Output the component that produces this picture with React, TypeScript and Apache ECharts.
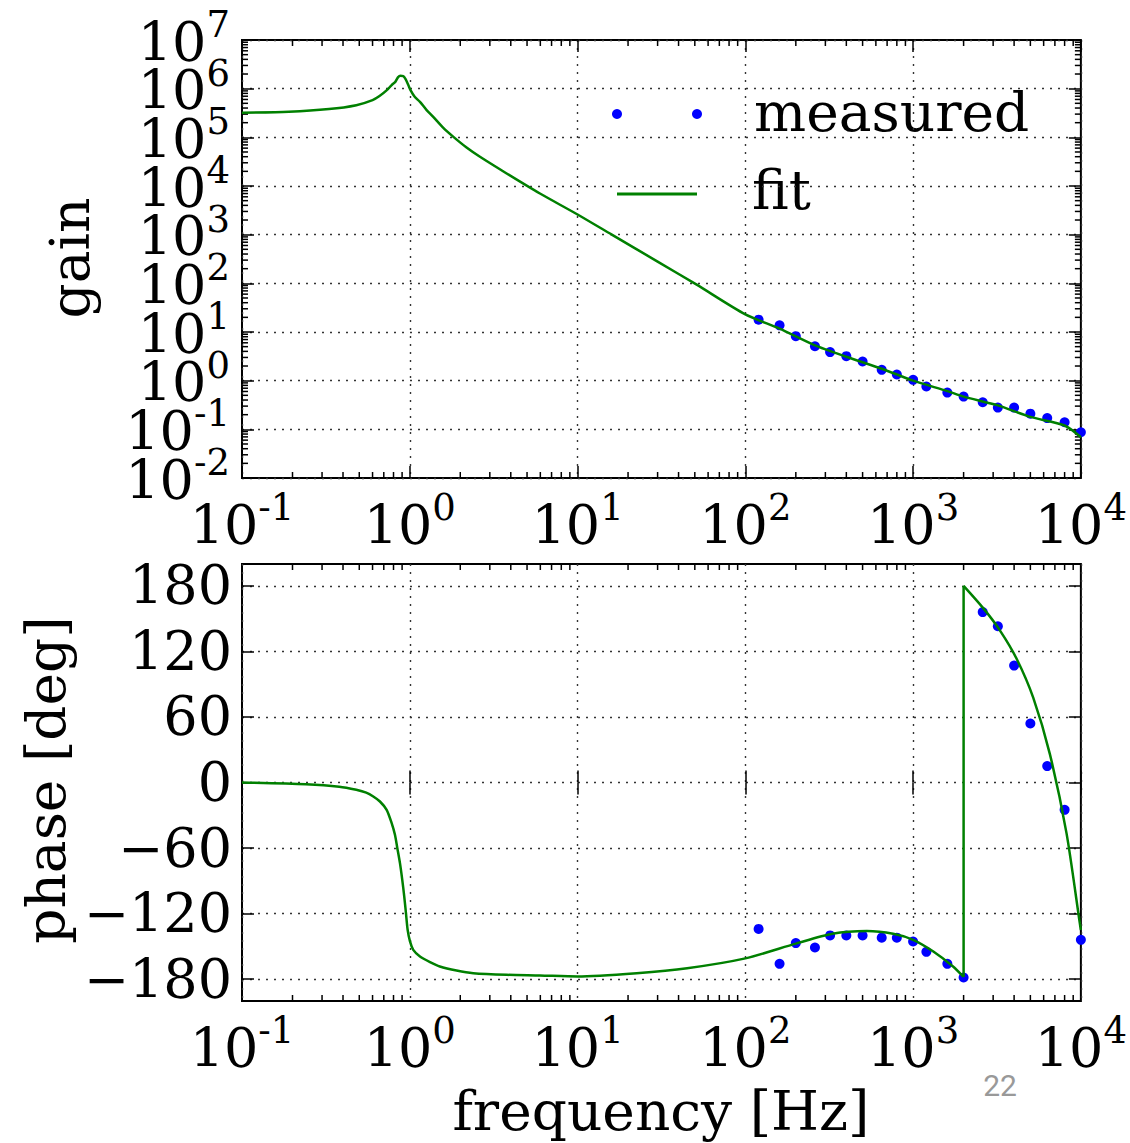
import React, { useEffect, useRef } from 'react';
import * as echarts from 'echarts';

const F = 'DejaVu Serif';
const BLUE = '#0000ff';
const GREEN = '#008000';

// measured data
const freqMeasured = [120, 160, 200, 260, 320, 400, 500, 650, 800, 1000, 1200, 1600, 2000, 2600, 3200, 4000, 5000, 6300, 8000, 10000];
const gainMeasured = [17.9, 13.7, 8.2, 5.1, 3.86, 3.19, 2.48, 1.67, 1.34, 1.04, 0.76, 0.57, 0.47, 0.36, 0.28, 0.28, 0.21, 0.17, 0.14, 0.087];
const phaseMeasured = [-134, -166, -147, -151, -140, -140, -140, -142, -142, -145.5, -155, -166, -178.5, 156, 143, 107, 54, 15, -25, -144];

// fit curve: gain
const freqFitGain = [0.1, 0.19, 0.33, 0.48, 0.6, 0.66, 0.73, 0.78, 0.82, 0.85, 0.88, 0.915, 0.946, 0.98, 1.01, 1.07, 1.15, 1.26, 1.38, 1.58, 1.82, 2.18, 2.62, 3.78, 5.97, 10, 16, 30, 51, 100, 160, 260, 400, 650, 1000, 1600, 2000, 3200, 5000, 8000, 10000];
const gainFit = [3.19e5, 3.35e5, 3.8e5, 4.57e5, 5.82e5, 7.05e5, 9.33e5, 1.186e6, 1.38e6, 1.706e6, 1.84e6, 1.816e6, 1.55e6, 1.186e6, 9.33e5, 6.81e5, 5.37e5, 3.63e5, 2.63e5, 1.58e5, 1.02e5, 6.17e4, 3.98e4, 1.81e4, 7.0e3, 2.6e3, 1.0e3, 280, 95, 23, 11.7, 5.3, 3.1, 1.76, 1.0, 0.61, 0.47, 0.31, 0.18, 0.12, 0.069];

// fit curve: phase, below the wrap (0.1 Hz .. 2 kHz)
const freqFitPhaseLow = [0.1, 0.24, 0.38, 0.48, 0.55, 0.606, 0.664, 0.728, 0.78, 0.816, 0.843, 0.874, 0.902, 0.927, 0.949, 0.971, 1.003, 1.049, 1.15, 1.32, 1.51, 1.9, 2.39, 3.78, 5.97, 10, 22.5, 45, 100, 200, 330, 530, 760, 1000, 1320, 1730, 2000];
const phaseFitLow = [0, -1.6, -3.8, -6.7, -9.3, -12.8, -17.4, -25, -37.2, -47.9, -60.1, -73.8, -89.1, -104.4, -119.6, -134.8, -145.5, -153.2, -159.3, -164.4, -168.4, -172.1, -174.5, -176, -176.6, -177.5, -174.5, -170, -161, -147.5, -138.5, -136, -138.5, -144, -154.7, -168.4, -178];
// the wrap at 2 kHz
const freqFitPhaseWrap = [2000, 2000];
const phaseFitWrap = [-178, 180];
// above the wrap (2 kHz .. 10 kHz)
const freqFitPhaseHigh = [2000, 2618, 3290, 4140, 5200, 6530, 8220, 9860, 10000];
const phaseFitHigh = [180, 159.6, 139.3, 113.3, 77.7, 26.2, -46.8, -129, -135];

// axes
const phaseTicks = [-180, -120, -60, 0, 60, 120, 180];
const minorMultipliers = [2, 3, 4, 5, 6, 7, 8, 9];
const xDecades = [0.1, 1, 10, 100, 1000];
const yDecades = [0.01, 0.1, 1, 10, 100, 1000, 10000, 1e5, 1e6];

const X_MIN = 0.1, X_MAX = 10000;
const G_MIN = 0.01, G_MAX = 1e7;
const P_MIN = -200, P_MAX = 200;

function minorVals(decades: number[]) {
  const out: number[] = [];
  decades.forEach((d) => minorMultipliers.forEach((m) => out.push(m * d)));
  return out;
}

const tickLine = { color: '#000', width: 1.5 };
const gridLine = { color: '#333', type: [2, 6] as any, width: 1.4 };

const rich = {
  b: { fontFamily: F, fontSize: 54, lineHeight: 63, verticalAlign: 'bottom', color: '#000' },
  s: { fontFamily: F, fontSize: 37, verticalAlign: 'top', color: '#000' },
};
const expOf = (v: number) => Math.round(Math.log10(v));
const logFmt = (v: number) => `{b|10}{s|${expOf(v)}}`;
// gain-axis labels split over two overlaid axes (even / odd powers) so none gets dropped
const logFmtParity = (parity: number) => (v: number) => {
  const e = expOf(v);
  return Math.abs(e % 2) === parity ? `{b|10}{s|${e}}` : '';
};

function xMinorSeries(xi: number, yi: number, yLo: number, yHi: number) {
  return {
    type: 'custom',
    xAxisIndex: xi,
    yAxisIndex: yi,
    silent: true,
    clip: false,
    data: minorVals(xDecades).map((v) => [v, yLo]),
    renderItem: (params: any, api: any) => {
      const v = api.value(0);
      const a = api.coord([v, yLo]);
      const b = api.coord([v, yHi]);
      return {
        type: 'group',
        children: [
          { type: 'line', shape: { x1: a[0], y1: a[1], x2: a[0], y2: a[1] - 6 }, style: { stroke: '#000', lineWidth: 1.5 } },
          { type: 'line', shape: { x1: b[0], y1: b[1], x2: b[0], y2: b[1] + 6 }, style: { stroke: '#000', lineWidth: 1.5 } },
        ],
      };
    },
  };
}

function yMinorSeries(xi: number, yi: number) {
  return {
    type: 'custom',
    xAxisIndex: xi,
    yAxisIndex: yi,
    silent: true,
    clip: false,
    data: minorVals(yDecades).map((v) => [X_MIN, v]),
    renderItem: (params: any, api: any) => {
      const v = api.value(1);
      const a = api.coord([X_MIN, v]);
      const b = api.coord([X_MAX, v]);
      return {
        type: 'group',
        children: [
          { type: 'line', shape: { x1: a[0], y1: a[1], x2: a[0] + 6, y2: a[1] }, style: { stroke: '#000', lineWidth: 1.5 } },
          { type: 'line', shape: { x1: b[0], y1: b[1], x2: b[0] - 6, y2: b[1] }, style: { stroke: '#000', lineWidth: 1.5 } },
        ],
      };
    },
  };
}

const fitLine = (xi: number, yi: number, xs: number[], ys: number[], smooth: any) => ({
  type: 'line', name: 'fit', xAxisIndex: xi, yAxisIndex: yi,
  data: xs.map((f, i) => [f, ys[i]]),
  showSymbol: false, smooth,
  lineStyle: { color: GREEN, width: 2.5 }, itemStyle: { color: GREEN },
});

export default function App() {
  const ref = useRef<HTMLDivElement>(null);
  useEffect(() => {
    if (!ref.current) return;
    const chart = echarts.init(ref.current, undefined, { renderer: 'svg' });
    const logX = (gridIndex: number, pos: 'bottom' | 'top', main: boolean) => ({
      type: 'log',
      logBase: 10,
      gridIndex,
      position: pos,
      min: X_MIN,
      max: X_MAX,
      splitNumber: 5,
      axisLine: { show: false },
      axisTick: { show: true, inside: true, length: 12, lineStyle: tickLine },
      axisLabel: main
        ? { show: true, formatter: logFmt, rich, margin: 11, showMinLabel: true, showMaxLabel: true, hideOverlap: false }
        : { show: false },
      splitLine: main ? { show: true, lineStyle: gridLine } : { show: false },
    });
    const gainLabelAxis = (parity: number) => ({
      type: 'log', logBase: 10, gridIndex: 0, position: 'left', offset: 0, min: G_MIN, max: G_MAX, splitNumber: 9,
      axisLine: { show: false },
      axisTick: { show: false },
      splitLine: { show: false },
      axisLabel: {
        show: true, formatter: logFmtParity(parity), rich, margin: 12, height: 34, verticalAlign: 'bottom',
        showMinLabel: parity === 0, showMaxLabel: parity === 1, hideOverlap: false,
      },
    });
    const option: any = {
      animation: false,
      backgroundColor: '#fff',
      grid: [
        { left: 242, top: 40, width: 839, height: 438, show: true, borderColor: '#000', borderWidth: 2, backgroundColor: 'transparent' },
        { left: 242, top: 564, width: 839, height: 437, show: true, borderColor: '#000', borderWidth: 2, backgroundColor: 'transparent' },
      ],
      xAxis: [logX(0, 'bottom', true), logX(1, 'bottom', true), logX(0, 'top', false), logX(1, 'top', false)],
      yAxis: [
        {
          type: 'log', logBase: 10, gridIndex: 0, position: 'left', min: G_MIN, max: G_MAX, splitNumber: 9,
          axisLine: { show: false },
          axisTick: { show: true, inside: true, length: 12, lineStyle: tickLine },
          axisLabel: { show: false },
          splitLine: { show: true, lineStyle: gridLine },
        },
        {
          type: 'value', gridIndex: 1, position: 'left', min: P_MIN, max: P_MAX,
          axisLine: { show: false },
          axisTick: { show: true, inside: true, length: 12, lineStyle: tickLine, customValues: phaseTicks },
          axisLabel: {
            show: true, customValues: phaseTicks, margin: 10, fontFamily: F, fontSize: 54, color: '#000',
            formatter: (v: number) => (v < 0 ? '\u2212' + String(-v) : String(v)),
          },
          splitLine: { show: true, lineStyle: gridLine },
        },
        {
          type: 'log', logBase: 10, gridIndex: 0, position: 'right', min: G_MIN, max: G_MAX, splitNumber: 9,
          axisLine: { show: false },
          axisTick: { show: true, inside: true, length: 12, lineStyle: tickLine },
          axisLabel: { show: false },
          splitLine: { show: false },
        },
        {
          type: 'value', gridIndex: 1, position: 'right', min: P_MIN, max: P_MAX,
          axisLine: { show: false },
          axisTick: { show: true, inside: true, length: 12, lineStyle: tickLine, customValues: phaseTicks },
          axisLabel: { show: false, customValues: phaseTicks },
          splitLine: { show: false },
        },
        gainLabelAxis(0),
        gainLabelAxis(1),
      ],
      series: [
        {
          type: 'scatter', name: 'measured', xAxisIndex: 0, yAxisIndex: 0,
          data: freqMeasured.map((f, i) => [f, gainMeasured[i]]),
          symbolSize: 10, itemStyle: { color: BLUE, opacity: 1 }, clip: false,
        },
        fitLine(0, 0, freqFitGain, gainFit, 0.25),
        {
          type: 'scatter', name: 'measured', xAxisIndex: 1, yAxisIndex: 1,
          data: freqMeasured.map((f, i) => [f, phaseMeasured[i]]),
          symbolSize: 10, itemStyle: { color: BLUE, opacity: 1 }, clip: false,
        },
        fitLine(1, 1, freqFitPhaseLow, phaseFitLow, 0.25),
        fitLine(1, 1, freqFitPhaseWrap, phaseFitWrap, false),
        fitLine(1, 1, freqFitPhaseHigh, phaseFitHigh, 0.25),
        xMinorSeries(0, 0, G_MIN, G_MAX),
        xMinorSeries(1, 1, P_MIN, P_MAX),
        yMinorSeries(0, 0),
      ],
      graphic: [
        { type: 'circle', shape: { cx: 617, cy: 114, r: 5 }, style: { fill: BLUE } },
        { type: 'circle', shape: { cx: 697, cy: 114, r: 5 }, style: { fill: BLUE } },
        { type: 'line', shape: { x1: 617, y1: 194, x2: 697, y2: 194 }, style: { stroke: GREEN, lineWidth: 3 } },
        { type: 'text', x: 754, y: 112, style: { text: 'measured', fontFamily: F, fontSize: 55, fill: '#000', textAlign: 'left', textVerticalAlign: 'middle' } },
        { type: 'text', x: 752, y: 190, style: { text: 'fit', fontFamily: F, fontSize: 55, fill: '#000', textAlign: 'left', textVerticalAlign: 'middle' } },
        { type: 'text', x: 70, y: 258, rotation: Math.PI / 2, style: { text: 'gain', fontFamily: F, fontSize: 55, fill: '#000', textAlign: 'center', textVerticalAlign: 'middle' } },
        { type: 'text', x: 46, y: 780, rotation: Math.PI / 2, style: { text: 'phase [deg]', fontFamily: F, fontSize: 55, fill: '#000', textAlign: 'center', textVerticalAlign: 'middle' } },
        { type: 'text', x: 661, y: 1111, style: { text: 'frequency [Hz]', fontFamily: F, fontSize: 55, fill: '#000', textAlign: 'center', textVerticalAlign: 'middle' } },
        { type: 'text', x: 1000, y: 1085, style: { text: '22', fontFamily: 'Roboto', fontSize: 30, fill: '#999', textAlign: 'center', textVerticalAlign: 'middle' } },
      ],
    };
    chart.setOption(option);
    return () => chart.dispose();
  }, []);
  return <div ref={ref} style={{ position: 'absolute', left: 0, top: 0, width: 1130, height: 1143 }} />;
}
